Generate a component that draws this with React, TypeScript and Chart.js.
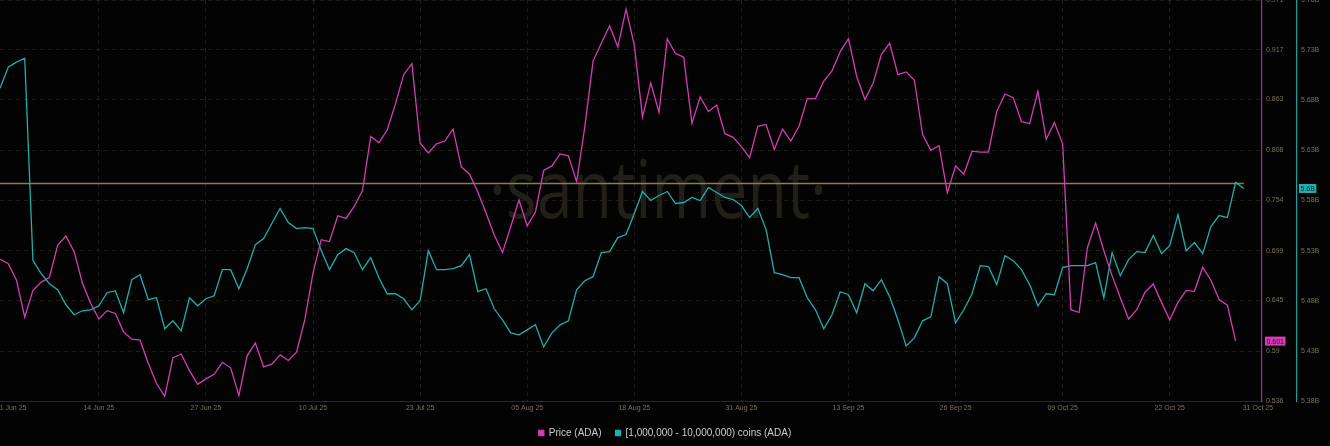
import React, { useEffect, useRef } from 'react';
import { Chart, registerables } from 'chart.js';

Chart.register(...registerables);

// ---- Data (daily, starting 2025-06-02) ----
const seriesNames = ['Price (ADA)', '[1,000,000 - 10,000,000) coins (ADA)'];

const priceADA = [
  0.690, 0.685, 0.667, 0.627, 0.656, 0.665, 0.670, 0.705, 0.715, 0.698,
  0.664, 0.642, 0.625, 0.634, 0.631, 0.611, 0.603, 0.602, 0.577, 0.555,
  0.541, 0.583, 0.587, 0.569, 0.554, 0.560, 0.565, 0.578, 0.572, 0.542,
  0.585, 0.599, 0.573, 0.576, 0.586, 0.580, 0.589, 0.624, 0.675, 0.711,
  0.709, 0.737, 0.734, 0.747, 0.764, 0.823, 0.816, 0.830, 0.858, 0.890,
  0.902, 0.816, 0.805, 0.815, 0.818, 0.831, 0.790, 0.782, 0.763, 0.740,
  0.716, 0.697, 0.725, 0.754, 0.726, 0.741, 0.786, 0.791, 0.804, 0.802,
  0.774, 0.834, 0.905, 0.924, 0.943, 0.920, 0.961, 0.922, 0.844, 0.881,
  0.849, 0.929, 0.913, 0.909, 0.837, 0.866, 0.850, 0.857, 0.826, 0.822,
  0.812, 0.800, 0.834, 0.836, 0.809, 0.831, 0.818, 0.834, 0.864, 0.864,
  0.883, 0.894, 0.915, 0.929, 0.888, 0.863, 0.881, 0.912, 0.924, 0.890,
  0.893, 0.884, 0.825, 0.808, 0.813, 0.762, 0.791, 0.782, 0.807, 0.806,
  0.806, 0.850, 0.869, 0.865, 0.839, 0.837, 0.872, 0.820, 0.838, 0.815,
  0.635, 0.632, 0.702, 0.729, 0.699, 0.672, 0.648, 0.625, 0.635, 0.654,
  0.663, 0.643, 0.624, 0.643, 0.656, 0.655, 0.681, 0.667, 0.646, 0.640,
  0.601,
];

// billions of ADA held by the 1M-10M cohort
const cohortHoldings = [
  5.692, 5.713, 5.718, 5.722, 5.520, 5.507, 5.497, 5.491, 5.476, 5.466,
  5.470, 5.471, 5.475, 5.488, 5.490, 5.468, 5.501, 5.506, 5.481, 5.483,
  5.452, 5.460, 5.450, 5.483, 5.475, 5.482, 5.485, 5.511, 5.511, 5.492,
  5.512, 5.536, 5.542, 5.557, 5.572, 5.558, 5.552, 5.553, 5.552, 5.530,
  5.511, 5.526, 5.532, 5.528, 5.511, 5.523, 5.503, 5.487, 5.487, 5.482,
  5.471, 5.480, 5.530, 5.511, 5.511, 5.512, 5.515, 5.526, 5.489, 5.492,
  5.472, 5.461, 5.448, 5.446, 5.451, 5.456, 5.434, 5.448, 5.456, 5.460,
  5.491, 5.500, 5.504, 5.528, 5.529, 5.543, 5.546, 5.567, 5.589, 5.580,
  5.585, 5.589, 5.577, 5.578, 5.583, 5.580, 5.593, 5.588, 5.583, 5.581,
  5.575, 5.563, 5.572, 5.551, 5.508, 5.506, 5.503, 5.503, 5.483, 5.471,
  5.452, 5.466, 5.489, 5.486, 5.468, 5.497, 5.490, 5.501, 5.484, 5.461,
  5.435, 5.443, 5.460, 5.464, 5.504, 5.497, 5.458, 5.471, 5.487, 5.515,
  5.514, 5.496, 5.525, 5.520, 5.511, 5.496, 5.475, 5.487, 5.486, 5.513,
  5.515, 5.515, 5.515, 5.518, 5.483, 5.528, 5.505, 5.521, 5.529, 5.528,
  5.545, 5.527, 5.535, 5.566, 5.530, 5.538, 5.527, 5.554, 5.565, 5.563,
  5.598, 5.592,
];

const cohortMarkerLevel = 5.597;

const xTickDates = [
  '2025-06-01', '2025-06-14', '2025-06-27', '2025-07-10', '2025-07-23', '2025-08-05',
  '2025-08-18', '2025-08-31', '2025-09-13', '2025-09-26', '2025-10-09', '2025-10-22', '2025-10-31',
];
const xTickLabels = [
  '01 Jun 25', '14 Jun 25', '27 Jun 25', '10 Jul 25', '23 Jul 25', '05 Aug 25',
  '18 Aug 25', '31 Aug 25', '13 Sep 25', '26 Sep 25', '09 Oct 25', '22 Oct 25', '31 Oct 25',
];
const priceTicks = [0.536, 0.59, 0.645, 0.699, 0.754, 0.808, 0.863, 0.917, 0.971];
const cohortTicks = [5.38, 5.43, 5.48, 5.53, 5.58, 5.63, 5.68, 5.73, 5.78];

// ---- Styling ----
const START = Date.UTC(2025, 5, 2);
const dayIndex = (iso: string) => Math.round((Date.parse(iso + 'T00:00:00Z') - START) / 86400000);
const X_MAX = 153.2;
const FIRST_LABEL_ANCHOR = 1.35; // edge labels are pulled inside the plot
const LAST_LABEL_ANCHOR = 152.7;

const BG = '#030303';
const PRICE = '#d53db5';
const PRICE_AXIS = '#b42895';
const COHORT = '#1fb0ae';
const COHORT_AXIS = '#16a09e';
const MARKER = '#8c7c54';
const GRID = '#201f17';
const TICK_TEXT = '#7c7357';
const FONT = "'Liberation Sans', Arial, sans-serif";

function drawBadge(ctx: CanvasRenderingContext2D, x: number, y: number, text: string, bg: string, fg: string) {
  ctx.save();
  ctx.font = `7px ${FONT}`;
  const tw = ctx.measureText(text).width;
  const w = tw + 3;
  const h = 9;
  ctx.fillStyle = bg;
  ctx.fillRect(x, y - h / 2, w, h);
  ctx.fillStyle = fg;
  ctx.textAlign = 'left';
  ctx.textBaseline = 'middle';
  ctx.fillText(text, x + 1.5, y + 0.5);
  ctx.restore();
}

const overlayPlugin = {
  id: 'santimentOverlay',
  beforeDatasetsDraw(chart: any) {
    const { ctx, chartArea } = chart;
    ctx.save();
    ctx.font = `400 80px 'Open Sans', sans-serif`;
    ctx.fillStyle = '#221f18';
    ctx.textAlign = 'center';
    ctx.textBaseline = 'alphabetic';
    const text = '·santiment·';
    const w = ctx.measureText(text).width;
    const cx = (chartArea.left + chartArea.right) / 2 + 27;
    ctx.translate(cx, chartArea.top + 218);
    ctx.scale(338 / w, 1);
    ctx.fillText(text, 0, 0);
    ctx.restore();
  },
  afterDraw(chart: any) {
    const { ctx } = chart;
    const yP = chart.scales.y;
    const yC = chart.scales.y1;
    const lastP = priceADA[priceADA.length - 1];
    const lastC = cohortHoldings[cohortHoldings.length - 1];
    drawBadge(ctx, yP.left + 3, yP.getPixelForValue(lastP), lastP.toFixed(3), PRICE, '#3d0733');
    drawBadge(ctx, yC.left + 2, yC.getPixelForValue(lastC), lastC.toFixed(1) + 'B', COHORT, '#032b2b');
  },
};

export default function App() {
  const ref = useRef<HTMLCanvasElement>(null);

  useEffect(() => {
    const canvas = ref.current;
    if (!canvas) return;
    const lastTick = xTickLabels.length - 1;
    const xTickValues = xTickDates.map((d, i) =>
      i === 0 ? FIRST_LABEL_ANCHOR : i === lastTick ? LAST_LABEL_ANCHOR : dayIndex(d)
    );

    const chart = new Chart(canvas, {
      type: 'line',
      data: {
        datasets: [
          {
            label: seriesNames[0],
            data: priceADA.map((v, i) => ({ x: i, y: v })),
            yAxisID: 'y',
            borderColor: PRICE,
            backgroundColor: PRICE,
            borderWidth: 1.3,
            pointRadius: 0,
            tension: 0,
          },
          {
            label: seriesNames[1],
            data: cohortHoldings.map((v, i) => ({ x: i, y: v })),
            yAxisID: 'y1',
            borderColor: COHORT,
            backgroundColor: COHORT,
            borderWidth: 1.3,
            pointRadius: 0,
            tension: 0,
          },
          {
            label: 'marker',
            data: [
              { x: 0, y: cohortMarkerLevel },
              { x: cohortHoldings.length - 1, y: cohortMarkerLevel },
            ],
            yAxisID: 'y1',
            borderColor: MARKER,
            backgroundColor: MARKER,
            borderWidth: 1.5,
            pointRadius: 0,
          },
        ],
      },
      options: {
        animation: false,
        responsive: false,
        devicePixelRatio: 1,
        events: [],
        layout: { padding: { top: 0, left: 0, right: 0, bottom: -2 } },
        plugins: {
          tooltip: { enabled: false },
          legend: {
            position: 'bottom',
            align: 'center',
            labels: {
              color: '#cdcdcd',
              font: { size: 10, family: FONT },
              boxWidth: 5,
              boxHeight: 5,
              padding: 14,
              filter: (item: any) => item.datasetIndex < 2,
            },
          },
        },
        scales: {
          x: {
            type: 'linear',
            position: 'bottom',
            min: 0,
            max: X_MAX,
            afterBuildTicks: (scale: any) => {
              scale.ticks = xTickValues.map((v) => ({ value: v }));
            },
            afterFit: (scale: any) => {
              scale.height = 13;
              scale.paddingLeft = 0;
              scale.paddingRight = 0;
            },
            ticks: {
              autoSkip: false,
              maxRotation: 0,
              padding: 3,
              color: TICK_TEXT,
              font: { size: 7, family: FONT },
              callback: (_v: any, i: number) => xTickLabels[i],
            },
            grid: {
              drawTicks: false,
              color: (c: any) => (c.index === 0 || c.index === lastTick ? 'rgba(0,0,0,0)' : GRID),
              lineWidth: 1,
            },
            border: { display: true, color: '#29271d', width: 1, dash: [4, 4] },
          },
          y: {
            type: 'linear',
            position: 'right',
            min: priceTicks[0],
            max: priceTicks[priceTicks.length - 1],
            afterBuildTicks: (scale: any) => {
              scale.ticks = priceTicks.map((v) => ({ value: v }));
            },
            afterFit: (scale: any) => {
              scale.width = 35;
              scale.paddingTop = 0;
              scale.paddingBottom = 0;
            },
            ticks: {
              padding: 4,
              color: TICK_TEXT,
              font: { size: 7, family: FONT },
              callback: (v: any) => String(v),
            },
            grid: { drawTicks: false, color: GRID, lineWidth: 1 },
            border: { display: true, color: PRICE_AXIS, width: 1.2, dash: [4, 4] },
          },
          y1: {
            type: 'linear',
            position: 'right',
            min: cohortTicks[0],
            max: cohortTicks[cohortTicks.length - 1],
            afterBuildTicks: (scale: any) => {
              scale.ticks = cohortTicks.map((v) => ({ value: v }));
            },
            afterFit: (scale: any) => {
              scale.width = 33;
              scale.paddingTop = 0;
              scale.paddingBottom = 0;
            },
            ticks: {
              padding: 4,
              color: TICK_TEXT,
              font: { size: 7, family: FONT },
              callback: (v: any) => Number(v).toFixed(2) + 'B',
            },
            grid: { display: false, drawTicks: false },
            border: { display: true, color: COHORT_AXIS, width: 1.2 },
          },
        },
      },
      plugins: [overlayPlugin],
    } as any);

    return () => chart.destroy();
  }, []);

  return (
    <div style={{ position: 'fixed', left: 0, top: 0, width: 1330, height: 446, background: BG }}>
      <canvas ref={ref} width={1330} height={446} style={{ display: 'block' }} />
    </div>
  );
}
